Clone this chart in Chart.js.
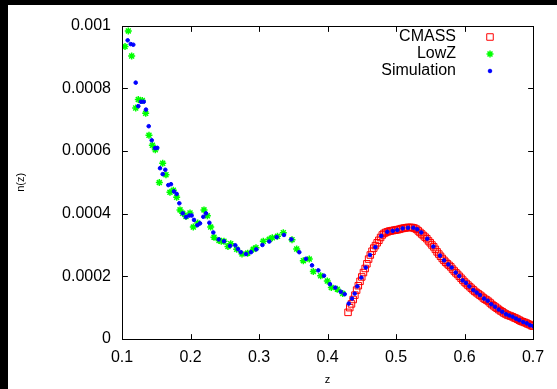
<!DOCTYPE html>
<html>
<head>
<meta charset="utf-8">
<script src="https://cdn.jsdelivr.net/npm/chart.js@4.4.1/dist/chart.umd.min.js"></script>
<style>
  html, body { margin: 0; padding: 0; background: #000; }
  #wrap { position: absolute; left: 8px; top: 5px; width: 549px; height: 384px; background: #fff; }
</style>
</head>
<body>
<div id="wrap"><canvas id="nzChart" width="549" height="384"></canvas></div>
<script>
// tick labels
const xTicks = [0.1, 0.2, 0.3, 0.4, 0.5, 0.6, 0.7];
const yTicks = [0, 0.0002, 0.0004, 0.0006, 0.0008, 0.001];

// CMASS n(z)
const cmassZ = [0.4300, 0.4325, 0.4350, 0.4375, 0.4400, 0.4425, 0.4450, 0.4475, 0.4500, 0.4525,
  0.4550, 0.4575, 0.4600, 0.4625, 0.4650, 0.4675, 0.4700, 0.4725, 0.4750, 0.4775,
  0.4800, 0.4825, 0.4850, 0.4875, 0.4900, 0.4925, 0.4950, 0.4975, 0.5000, 0.5025,
  0.5050, 0.5075, 0.5100, 0.5125, 0.5150, 0.5175, 0.5200, 0.5225, 0.5250, 0.5275,
  0.5300, 0.5325, 0.5350, 0.5375, 0.5400, 0.5425, 0.5450, 0.5475, 0.5500, 0.5525,
  0.5550, 0.5575, 0.5600, 0.5625, 0.5650, 0.5675, 0.5700, 0.5725, 0.5750, 0.5775,
  0.5800, 0.5825, 0.5850, 0.5875, 0.5900, 0.5925, 0.5950, 0.5975, 0.6000, 0.6025,
  0.6050, 0.6075, 0.6100, 0.6125, 0.6150, 0.6175, 0.6200, 0.6225, 0.6250, 0.6275,
  0.6300, 0.6325, 0.6350, 0.6375, 0.6400, 0.6425, 0.6450, 0.6475, 0.6500, 0.6525,
  0.6550, 0.6575, 0.6600, 0.6625, 0.6650, 0.6675, 0.6700, 0.6725, 0.6750, 0.6775,
  0.6800, 0.6825, 0.6850, 0.6875, 0.6900, 0.6925, 0.6950, 0.6975, 0.7000];
const cmassN = [0.000085, 0.000100, 0.000112, 0.000126, 0.000140, 0.000156, 0.000170, 0.000184, 0.000198, 0.000212,
  0.000225, 0.000240, 0.000255, 0.000268, 0.000280, 0.000290, 0.000298, 0.000307, 0.000315, 0.000324,
  0.000332, 0.000337, 0.000340, 0.000342, 0.000344, 0.000345, 0.000346, 0.000347, 0.000348, 0.000349,
  0.000350, 0.000352, 0.000353, 0.000354, 0.000355, 0.000356, 0.000356, 0.000356, 0.000355, 0.000353,
  0.000350, 0.000345, 0.000340, 0.000335, 0.000330, 0.000325, 0.000320, 0.000313, 0.000307, 0.000300,
  0.000294, 0.000286, 0.000278, 0.000271, 0.000264, 0.000257, 0.000251, 0.000245, 0.000240, 0.000235,
  0.000230, 0.000223, 0.000217, 0.000211, 0.000206, 0.000200, 0.000194, 0.000188, 0.000182, 0.000177,
  0.000172, 0.000167, 0.000162, 0.000157, 0.000152, 0.000148, 0.000144, 0.000140, 0.000136, 0.000131,
  0.000127, 0.000124, 0.000120, 0.000115, 0.000110, 0.000106, 0.000102, 0.000098, 0.000094, 0.000090,
  0.000087, 0.000083, 0.000080, 0.000077, 0.000075, 0.000073, 0.000071, 0.000068, 0.000066, 0.000063,
  0.000060, 0.000057, 0.000055, 0.000053, 0.000051, 0.000048, 0.000046, 0.000043, 0.000041];

// LowZ n(z)
const lowzZ = [0.1044, 0.1092, 0.1141, 0.1200, 0.1238, 0.1296, 0.1346, 0.1394, 0.1443, 0.1486,
  0.1545, 0.1594, 0.1642, 0.1700, 0.1749, 0.1798, 0.1847, 0.1886, 0.1934, 0.1993,
  0.2041, 0.2105, 0.2197, 0.2246, 0.2295, 0.2343, 0.2416, 0.2450, 0.2489, 0.2547,
  0.2587, 0.2674, 0.2752, 0.2835, 0.2917, 0.2956, 0.3063, 0.3150, 0.3194, 0.3270,
  0.3355, 0.3482, 0.3550, 0.3647, 0.3734, 0.3793, 0.3900, 0.3997, 0.4056, 0.4143,
  0.4222];
const lowzN = [0.000933, 0.000983, 0.000903, 0.000737, 0.000764, 0.000761, 0.000720, 0.000650, 0.000618, 0.000604,
  0.000499, 0.000561, 0.000524, 0.000468, 0.000475, 0.000452, 0.000412, 0.000401, 0.000391, 0.000402,
  0.000357, 0.000370, 0.000412, 0.000393, 0.000357, 0.000325, 0.000314, 0.000312, 0.000312, 0.000295,
  0.000304, 0.000286, 0.000271, 0.000274, 0.000286, 0.000291, 0.000312, 0.000318, 0.000323, 0.000328,
  0.000339, 0.000317, 0.000287, 0.000250, 0.000255, 0.000215, 0.000202, 0.000185, 0.000164, 0.000159,
  0.000145];

// Simulation n(z)
const simZ = [0.1083, 0.1127, 0.1165, 0.1200, 0.1238, 0.1277, 0.1317, 0.1350, 0.1390, 0.1434,
  0.1482, 0.1515, 0.1555, 0.1594, 0.1632, 0.1676, 0.1715, 0.1759, 0.1798, 0.1837,
  0.1886, 0.1934, 0.1983, 0.2017, 0.2051, 0.2100, 0.2139, 0.2187, 0.2226, 0.2275,
  0.2333, 0.2412, 0.2489, 0.2577, 0.2654, 0.2693, 0.2733, 0.2810, 0.2883, 0.2960,
  0.3050, 0.3150, 0.3258, 0.3365, 0.3472, 0.3588, 0.3686, 0.3774, 0.3866, 0.3949,
  0.4036, 0.4114, 0.4193, 0.4251, 0.4310, 0.4358, 0.4397, 0.4435, 0.4494, 0.4558,
  0.4620, 0.4698, 0.4785, 0.4873, 0.4952, 0.5019, 0.5097, 0.5175, 0.5253, 0.5310,
  0.5369, 0.5457, 0.5545, 0.5642, 0.5701, 0.5764, 0.5813, 0.5871, 0.5924, 0.5973,
  0.6022, 0.6070, 0.6129, 0.6178, 0.6226, 0.6285, 0.6339, 0.6391, 0.6445, 0.6499,
  0.6552, 0.6606, 0.6654, 0.6703, 0.6752, 0.6800, 0.6858, 0.6908, 0.6956, 0.7005];
const simN = [0.000953, 0.000941, 0.000939, 0.000818, 0.000743, 0.000757, 0.000757, 0.000732, 0.000679, 0.000634,
  0.000609, 0.000610, 0.000545, 0.000526, 0.000540, 0.000491, 0.000494, 0.000471, 0.000463, 0.000433,
  0.000401, 0.000389, 0.000394, 0.000394, 0.000380, 0.000363, 0.000369, 0.000390, 0.000401, 0.000371,
  0.000340, 0.000318, 0.000312, 0.000297, 0.000299, 0.000287, 0.000277, 0.000271, 0.000277, 0.000286,
  0.000300, 0.000311, 0.000325, 0.000332, 0.000318, 0.000277, 0.000256, 0.000235, 0.000219, 0.000202,
  0.000175, 0.000164, 0.000151, 0.000143, 0.000113, 0.000129, 0.000145, 0.000168, 0.000196, 0.000228,
  0.000268, 0.000293, 0.000329, 0.000342, 0.000345, 0.000348, 0.000353, 0.000355, 0.000355, 0.000350,
  0.000340, 0.000320, 0.000295, 0.000266, 0.000251, 0.000238, 0.000228, 0.000212, 0.000201, 0.000187,
  0.000179, 0.000168, 0.000156, 0.000148, 0.000140, 0.000129, 0.000122, 0.000111, 0.000103, 0.000094,
  0.000087, 0.000079, 0.000075, 0.000071, 0.000065, 0.000060, 0.000054, 0.000050, 0.000044, 0.000041];

const pairs = (zs, ns) => zs.map((z, i) => ({ x: z, y: ns[i] }));
const FONT = "'Liberation Sans', Arial, Helvetica, sans-serif";

// border + inward ticks on all four sides
function drawFrame(chart) {
  const ctx = chart.ctx;
  const a = chart.chartArea;
  const sx = chart.scales.x, sy = chart.scales.y;
  const L = Math.round(a.left) + 0.5, T = Math.round(a.top) + 0.5;
  const R = Math.round(a.right) + 0.5, B = Math.round(a.bottom) + 0.5;
  ctx.save();
  ctx.setLineDash([]);
  ctx.globalAlpha = 1;
  ctx.strokeStyle = '#000';
  ctx.lineWidth = 1;
  ctx.beginPath();
  ctx.moveTo(L, T); ctx.lineTo(R, T); ctx.lineTo(R, B); ctx.lineTo(L, B); ctx.closePath();
  xTicks.forEach(v => {
    const px = Math.round(sx.getPixelForValue(v)) + 0.5;
    ctx.moveTo(px, B); ctx.lineTo(px, B - 5);
    ctx.moveTo(px, T); ctx.lineTo(px, T + 5);
  });
  yTicks.forEach(v => {
    const py = Math.round(sy.getPixelForValue(v)) + 0.5;
    ctx.moveTo(L, py); ctx.lineTo(L + 5, py);
    ctx.moveTo(R, py); ctx.lineTo(R - 5, py);
  });
  ctx.stroke();
  ctx.restore();
}

const gnuFrame = {
  id: 'gnuFrame',
  beforeDatasetsDraw(chart) { drawFrame(chart); },
  afterDatasetsDraw(chart) { drawFrame(chart); }
};

// key: text right aligned, marker on the right (CMASS, LowZ, Simulation from the top)
const gnuKey = {
  id: 'gnuKey',
  afterDraw(chart) {
    const ctx = chart.ctx;
    ctx.save();
    ctx.font = '16px ' + FONT;
    ctx.textAlign = 'right';
    ctx.textBaseline = 'middle';
    const sets = chart.data.datasets.slice().reverse();
    sets.forEach((ds, i) => {
      const y = 32 + i * 17;
      ctx.fillStyle = '#000';
      ctx.fillText(ds.label, 448, y);
      ctx.strokeStyle = ds.borderColor;
      ctx.fillStyle = ds.backgroundColor;
      ctx.lineWidth = ds.borderWidth;
      Chart.helpers.drawPoint(ctx, {
        pointStyle: ds.pointStyle, radius: ds.pointRadius, rotation: 0, borderWidth: ds.borderWidth
      }, 482, y);
    });
    ctx.restore();
    drawFrame(chart);
  }
};

// first dataset is drawn on top
new Chart(document.getElementById('nzChart').getContext('2d'), {
  type: 'scatter',
  data: {
    datasets: [
      {
        label: 'Simulation',
        data: pairs(simZ, simN),
        pointStyle: 'circle',
        pointRadius: 1.8,
        borderColor: '#0000ff',
        backgroundColor: '#0000ff',
        borderWidth: 1
      },
      {
        label: 'LowZ',
        data: pairs(lowzZ, lowzN),
        pointStyle: 'star',
        pointRadius: 3.5,
        borderColor: '#00ff00',
        backgroundColor: '#00ff00',
        borderWidth: 1.5
      },
      {
        label: 'CMASS',
        data: pairs(cmassZ, cmassN),
        pointStyle: 'rect',
        pointRadius: 4.6,
        borderColor: '#ff0000',
        backgroundColor: 'rgba(255,255,255,0)',
        borderWidth: 1
      }
    ]
  },
  options: {
    responsive: false,
    animation: false,
    layout: { padding: { top: 19, right: 24, left: 0, bottom: 0 } },
    plugins: { legend: { display: false }, tooltip: { enabled: false } },
    scales: {
      x: {
        type: 'linear',
        min: 0.1,
        max: 0.7,
        afterBuildTicks: s => { s.ticks = xTicks.map(v => ({ value: v })); },
        afterFit: s => { s.height = 50; },
        grid: { display: false, drawTicks: false },
        border: { display: false },
        ticks: {
          padding: 9,
          color: '#000',
          maxRotation: 0,
          font: { family: FONT, size: 16 },
          callback: v => String(+v.toFixed(1))
        },
        title: {
          display: true,
          text: 'z',
          color: '#000',
          font: { family: FONT, size: 11 },
          padding: { top: 0, bottom: 2 }
        }
      },
      y: {
        type: 'linear',
        min: 0,
        max: 0.001,
        afterBuildTicks: s => { s.ticks = yTicks.map(v => ({ value: v })); },
        afterFit: s => { s.width = 114; },
        grid: { display: false, drawTicks: false },
        border: { display: false },
        ticks: {
          padding: 11,
          color: '#000',
          font: { family: FONT, size: 16 },
          callback: v => String(+v.toFixed(4))
        },
        title: {
          display: true,
          text: 'n(z)',
          color: '#000',
          font: { family: FONT, size: 11 },
          padding: { top: 6, bottom: 0 }
        }
      }
    }
  },
  plugins: [gnuFrame, gnuKey]
});
</script>
</body>
</html>
